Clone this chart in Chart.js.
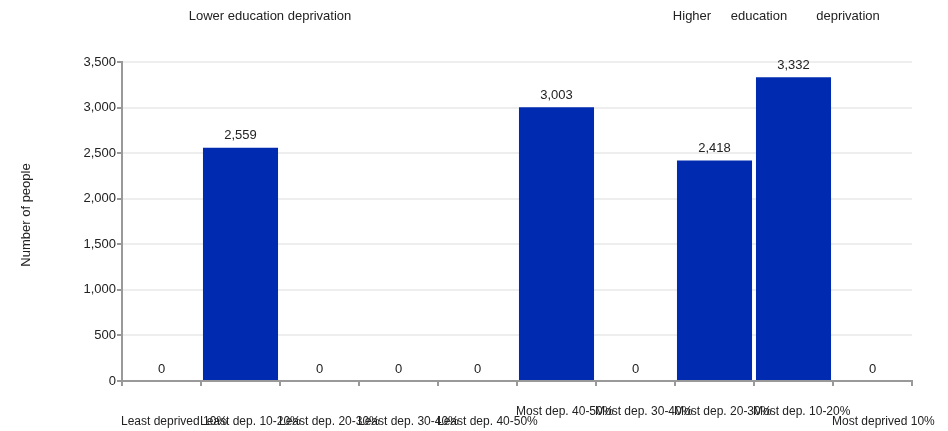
<!DOCTYPE html>
<html>
<head>
    <title>Education deprivation</title>
    <script src="https://cdn.jsdelivr.net/npm/chart.js"></script>
    <style>
        body { margin: 0; background: #fff; }
        #wrap { width: 948px; height: 431px; }
    </style>
</head>
<body>
    <div id="wrap"><canvas id="myChart" width="948" height="431"></canvas></div>

    <script>
        // data
        var categories = ['Least deprived 10%', 'Least dep. 10-20%', 'Least dep. 20-30%', 'Least dep. 30-40%', 'Least dep. 40-50%',
                          'Most dep. 40-50%', 'Most dep. 30-40%', 'Most dep. 20-30%', 'Most dep. 10-20%', 'Most deprived 10%'];
        var people = [0, 2559, 0, 0, 0, 3003, 0, 2418, 3332, 0];
        var raisedLabels = [false, false, false, false, false, true, true, true, true, false];
        var yTicks = [0, 500, 1000, 1500, 2000, 2500, 3000, 3500];

        var font = 'Arial, "Liberation Sans", sans-serif';
        var fmt = function (v) { return v.toLocaleString('en-GB'); };

        // value labels above each bar
        var valueLabels = {
            id: 'valueLabels',
            afterDatasetsDraw: function (chart) {
                var ctx = chart.ctx;
                var meta = chart.getDatasetMeta(0);
                ctx.save();
                ctx.font = '13px ' + font;
                ctx.fillStyle = '#222';
                ctx.textAlign = 'center';
                ctx.textBaseline = 'middle';
                meta.data.forEach(function (bar, i) {
                    ctx.fillText(fmt(people[i]), bar.x, bar.y - 12);
                });
                ctx.restore();
            }
        };

        // category labels, left aligned at the category boundary, some raised
        var catLabels = {
            id: 'catLabels',
            afterDraw: function (chart) {
                var ctx = chart.ctx;
                var x = chart.scales.x;
                var half = (x.getPixelForValue(1) - x.getPixelForValue(0)) / 2;
                ctx.save();
                ctx.font = '12px ' + font;
                ctx.fillStyle = '#222';
                ctx.textAlign = 'left';
                ctx.textBaseline = 'middle';
                categories.forEach(function (c, i) {
                    var px = x.getPixelForValue(i) - half;
                    ctx.fillText(c, px - 1, raisedLabels[i] ? 412 : 422);
                });

                // axis title and header notes
                ctx.font = '13px ' + font;
                ctx.textAlign = 'center';
                ctx.fillText('Lower education deprivation', 270, 16);
                ctx.fillText('Higher', 692, 16);
                ctx.fillText('education', 759, 16);
                ctx.fillText('deprivation', 848, 16);

                ctx.translate(26, 215);
                ctx.rotate(-Math.PI / 2);
                ctx.fillText('Number of people', 0, 0);
                ctx.restore();
            }
        };

        var ctx = document.getElementById('myChart').getContext('2d');
        var myChart = new Chart(ctx, {
            type: 'bar',
            data: {
                labels: categories,
                datasets: [{
                    data: people,
                    backgroundColor: '#002bb0',
                    borderWidth: 0,
                    barPercentage: 0.95,
                    categoryPercentage: 1.0
                }]
            },
            options: {
                responsive: false,
                animation: false,
                layout: { padding: { top: 62, right: 36, left: 0, bottom: 0 } },
                plugins: {
                    legend: { display: false },
                    tooltip: { enabled: false }
                },
                scales: {
                    x: {
                        afterFit: function (s) { s.height = 50; },
                        ticks: { display: false },
                        grid: {
                            offset: true,
                            drawOnChartArea: false,
                            drawTicks: true,
                            tickLength: 5,
                            tickColor: '#999',
                            lineWidth: 2
                        },
                        border: { color: '#999', width: 2 }
                    },
                    y: {
                        min: 0,
                        max: 3500,
                        afterFit: function (s) { s.width = 122; },
                        afterBuildTicks: function (s) {
                            s.ticks = yTicks.map(function (v) { return { value: v }; });
                        },
                        ticks: {
                            padding: 1,
                            color: '#222',
                            font: { size: 13, family: font },
                            callback: function (v) { return fmt(v); }
                        },
                        grid: {
                            color: '#eeeeee',
                            lineWidth: 2,
                            tickLength: 5,
                            tickColor: '#999'
                        },
                        border: { color: '#999', width: 2 }
                    }
                }
            },
            plugins: [valueLabels, catLabels]
        });
    </script>
</body>
</html>
